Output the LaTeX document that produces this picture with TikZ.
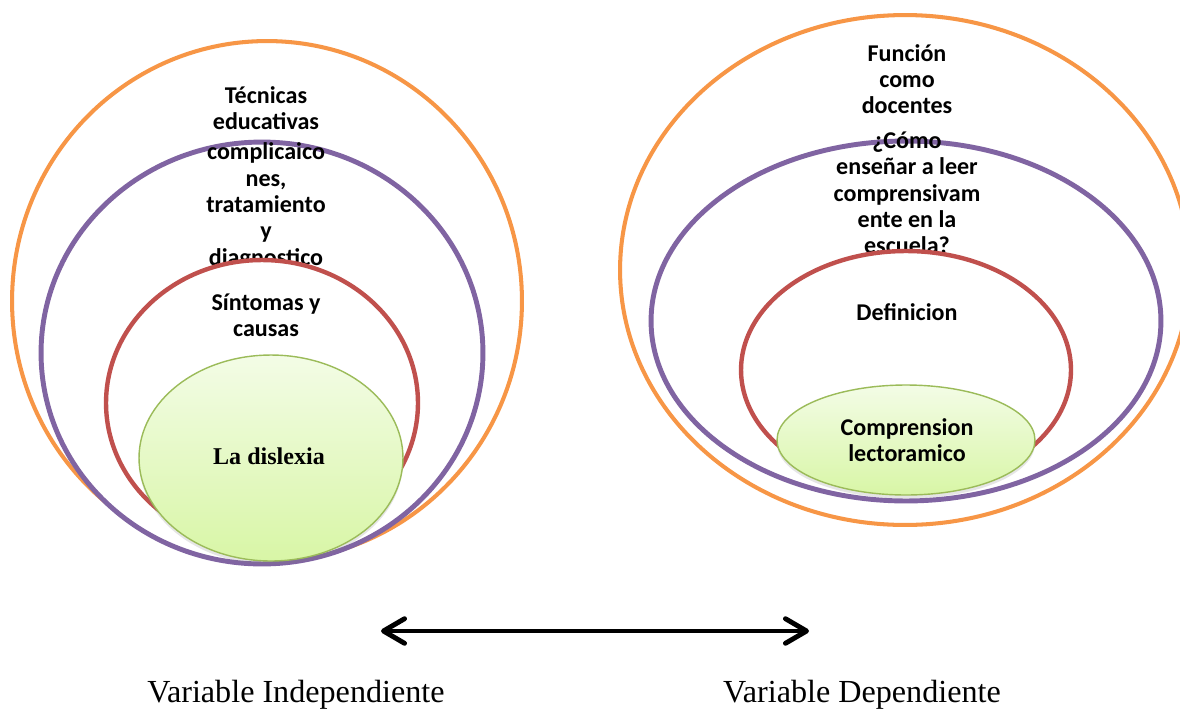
\documentclass[tikz,border=0pt]{standalone}
\usepackage{fontspec}
\setmainfont{Liberation Serif}
\newfontfamily\calibri{Carlito}
\usetikzlibrary{shapes.geometric,arrows.meta,shadows}
\definecolor{ringorange}{HTML}{F79646}
\definecolor{ringpurple}{HTML}{8064A2}
\definecolor{ringred}{HTML}{C0504D}
\definecolor{ringgreen}{HTML}{9BBB59}
\definecolor{greentop}{HTML}{F3FCE6}
\definecolor{greenbot}{HTML}{D8F6A6}
\tikzset{
  ring/.style={ellipse, draw=#1, fill=white, inner sep=0pt},
  core/.style={ellipse, draw=ringgreen, line width=0.8pt, top color=greentop, bottom color=greenbot,
    drop shadow={shadow xshift=0pt, shadow yshift=-2pt, opacity=0.2}, inner sep=0pt},
  lbl/.style={align=center, inner sep=0pt, font=\calibri\bfseries\fontsize{13.7}{15}\selectfont},
}
\begin{document}
\begin{tikzpicture}[x=0.02cm,y=-0.02cm]
\useasboundingbox (0,0) rectangle (1180,711);
% independent side
\node[ring=ringorange, line width=2.3pt, minimum width=10.2cm, minimum height=10.4cm] (oL) at (267,301){};
\node[lbl] (toL) at (266,108){Técnicas\\educativas};
\node[ring=ringpurple, line width=2.8pt, minimum width=8.84cm, minimum height=8.44cm] (pL) at (262,353){};
\node[lbl] (tpL) at (266,206){complicaico\\nes,\\tratamiento\\y\\diagnostico};
\node[ring=ringred, line width=2.5pt, minimum width=6.24cm, minimum height=5.72cm] (rL) at (262,403){};
\node[lbl] (trL) at (266,315){Síntomas y\\causas};
\node[core, minimum width=5.28cm, minimum height=4.12cm] (gL) at (271,458){};
\node[font=\bfseries\fontsize{13.7}{16}\selectfont] (tgL) at (269,456){La dislexia};
% dependent side
\node[ring=ringorange, line width=2.3pt, minimum width=11.4cm, minimum height=10.2cm] (oR) at (905,270){};
\node[lbl] (toR) at (907,79){Función\\como\\docentes};
\node[ring=ringpurple, line width=2.8pt, minimum width=10.2cm, minimum height=7.2cm] (pR) at (906,321){};
\node[lbl] (tpR) at (907,193){¿Cómo\\enseñar a leer\\comprensivam\\ente en la\\escuela?};
\node[ring=ringred, line width=2.5pt, minimum width=6.6cm, minimum height=4.76cm] (rR) at (906,370){};
\node[lbl] (trR) at (907,312){Definicion};
\node[core, minimum width=5.16cm, minimum height=2.2cm] (gR) at (906,440){};
\node[lbl] (tgR) at (907,440){Comprension\\lectoramico};
% relation
\coordinate (aL) at (381,631);
\coordinate (aR) at (809,631);
\draw[line width=2.8pt, {Straight Barb[length=12pt,width=14pt,round]}-{Straight Barb[length=12pt,width=14pt,round]}] (aL) -- (aR);
\node[font=\fontsize{18.3}{22}\selectfont] (vI) at (296,695){Variable Independiente};
\node[font=\fontsize{18.3}{22}\selectfont] (vD) at (862,695){Variable Dependiente};
\end{tikzpicture}
\end{document}
